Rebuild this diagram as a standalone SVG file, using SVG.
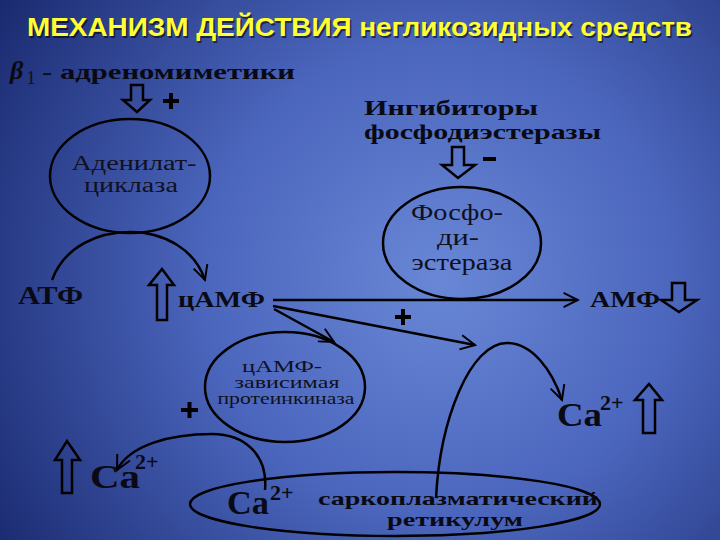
<svg xmlns="http://www.w3.org/2000/svg" width="720" height="540" viewBox="0 0 720 540">
<defs>
<radialGradient id="bg" cx="440" cy="280" r="520" gradientUnits="userSpaceOnUse">
<stop offset="0" stop-color="#6987d6"/>
<stop offset="0.45" stop-color="#4b66bd"/>
<stop offset="1" stop-color="#1a2a70"/>
</radialGradient>
<marker id="ahb" viewBox="0 0 20 20" refX="18" refY="10" markerWidth="18" markerHeight="18" markerUnits="userSpaceOnUse" orient="auto">
<path d="M2,2 L18,10 L2,18" fill="none" stroke="#000" stroke-width="2.2"/>
</marker>
<style>
.ell{fill:none;stroke:#000;stroke-width:2.5}
.line{fill:none;stroke:#000;stroke-width:2.5}
.hol{fill:none;stroke:#000;stroke-width:2.5;stroke-linejoin:miter}
.lbl{font-family:"Liberation Serif","DejaVu Serif",serif;fill:#101020;text-anchor:middle}
.b{font-family:"Liberation Serif","DejaVu Serif",serif;font-weight:bold;fill:#0a0a14}
.sign{stroke:#000;stroke-width:4}
.title{font-family:"Liberation Sans",Arial,sans-serif;font-weight:bold;font-size:26px}
</style>
</defs>
<rect width="720" height="540" fill="url(#bg)"/>
<text class="title" x="28.5" y="37.5" fill="#000" opacity="0.55" textLength="665" lengthAdjust="spacingAndGlyphs">МЕХАНИЗМ ДЕЙСТВИЯ негликозидных средств</text>
<text class="title" x="27" y="36" fill="#ffff33" textLength="665" lengthAdjust="spacingAndGlyphs">МЕХАНИЗМ ДЕЙСТВИЯ негликозидных средств</text>

<g id="beta">
<text class="b" x="10" y="79" font-size="26" font-style="italic">β</text>
<text class="lbl" x="31" y="84" font-size="19">1</text>
<text class="b" x="42" y="79" font-size="22" textLength="253" lengthAdjust="spacingAndGlyphs">- адреномиметики</text>
<path class="hol" d="M131,85 H143 V100 H150 L137,112 L123,100 H131 Z"/>
<path class="sign" d="M163,101 H179 M171,93 V109"/>
</g>

<g id="adenylate">
<ellipse class="ell" cx="130" cy="176" rx="80" ry="57"/>
<text class="lbl" x="134" y="170" font-size="20" textLength="125" lengthAdjust="spacingAndGlyphs">Аденилат-</text>
<text class="lbl" x="131" y="192" font-size="20" textLength="94" lengthAdjust="spacingAndGlyphs">циклаза</text>
</g>

<g id="inhib">
<text class="b" x="364" y="115" font-size="22" textLength="174" lengthAdjust="spacingAndGlyphs">Ингибиторы</text>
<text class="b" x="364" y="139" font-size="22" textLength="237" lengthAdjust="spacingAndGlyphs">фосфодиэстеразы</text>
<path class="hol" d="M452,147 H464 V165 H475 L458,178 L442,165 H452 Z"/>
<path class="sign" d="M483,159 H496"/>
</g>

<g id="pde">
<ellipse class="ell" cx="462" cy="243" rx="79" ry="56"/>
<text class="lbl" x="457" y="220" font-size="23" textLength="92" lengthAdjust="spacingAndGlyphs">Фосфо-</text>
<text class="lbl" x="458" y="245" font-size="23" textLength="42" lengthAdjust="spacingAndGlyphs">ди-</text>
<text class="lbl" x="462" y="270" font-size="23" textLength="101" lengthAdjust="spacingAndGlyphs">эстераза</text>
</g>

<g id="atf">
<text class="b" x="18" y="304" font-size="25" textLength="65" lengthAdjust="spacingAndGlyphs">АТФ</text>
</g>

<g id="camp">
<path class="hol" d="M157,320 H167 V285 H174 L162,269 L149,285 H157 Z"/>
<text class="b" x="178" y="307" font-size="24" textLength="87" lengthAdjust="spacingAndGlyphs">цАМФ</text>
</g>

<g id="amp">
<text class="b" x="590" y="307" font-size="24" textLength="70" lengthAdjust="spacingAndGlyphs">АМФ</text>
<path class="hol" d="M672,283 H685 V300 H697 L679,312 L661,300 H672 Z"/>
</g>

<g id="pk">
<ellipse class="ell" cx="285" cy="387" rx="80" ry="55"/>
<text class="lbl" x="282" y="372" font-size="16" textLength="80" lengthAdjust="spacingAndGlyphs">цАМФ-</text>
<text class="lbl" x="287" y="388" font-size="16" textLength="105" lengthAdjust="spacingAndGlyphs">зависимая</text>
<text class="lbl" x="286" y="404" font-size="16" textLength="137" lengthAdjust="spacingAndGlyphs">протеинкиназа</text>
</g>

<g id="ca-left">
<path class="hol" d="M62,493 H72 V460 H80 L67,441 L55,460 H62 Z"/>
<text class="b" x="90" y="488" font-size="34" textLength="50" lengthAdjust="spacingAndGlyphs">Ca</text>
<text class="b" x="135" y="469" font-size="22">2+</text>
</g>

<g id="ca-right">
<text class="b" x="557" y="426" font-size="34" textLength="45" lengthAdjust="spacingAndGlyphs">Ca</text>
<text class="b" x="600" y="410" font-size="22">2+</text>
<path class="hol" d="M643,433 H655 V400 H662 L649,384 L635,400 H643 Z"/>
</g>

<g id="sr">
<ellipse class="ell" cx="395" cy="504" rx="205" ry="32"/>
<text class="b" x="227" y="514" font-size="34" textLength="42" lengthAdjust="spacingAndGlyphs">Ca</text>
<text class="b" x="270" y="500" font-size="22">2+</text>
<text class="b" x="318" y="505" font-size="19" textLength="280" lengthAdjust="spacingAndGlyphs">саркоплазматический</text>
<text class="b" x="455" y="526" font-size="19" text-anchor="middle" textLength="136" lengthAdjust="spacingAndGlyphs">ретикулум</text>
</g>

<g id="connectors">
<path class="line" d="M52,280 C65,245 100,232 130,232 C165,232 195,250 205,280" marker-end="url(#ahb)"/>
<path class="line" d="M273,300 H578" marker-end="url(#ahb)"/>
<path class="line" d="M273,306 L475,345" marker-end="url(#ahb)"/>
<path class="line" d="M274,309 L334,342" marker-end="url(#ahb)"/>
<path class="sign" d="M395,317 H411 M403,309 V325"/>
<path class="sign" d="M181,410 H198 M189.5,402 V418"/>
<path class="line" d="M265,490 C268,455 245,434 212,434 C170,434 130,445 117,470" marker-end="url(#ahb)"/>
<path class="line" d="M436,498 C440,420 470,343 507,343 C532,343 552,370 562,400" marker-end="url(#ahb)"/>
</g>
</svg>
